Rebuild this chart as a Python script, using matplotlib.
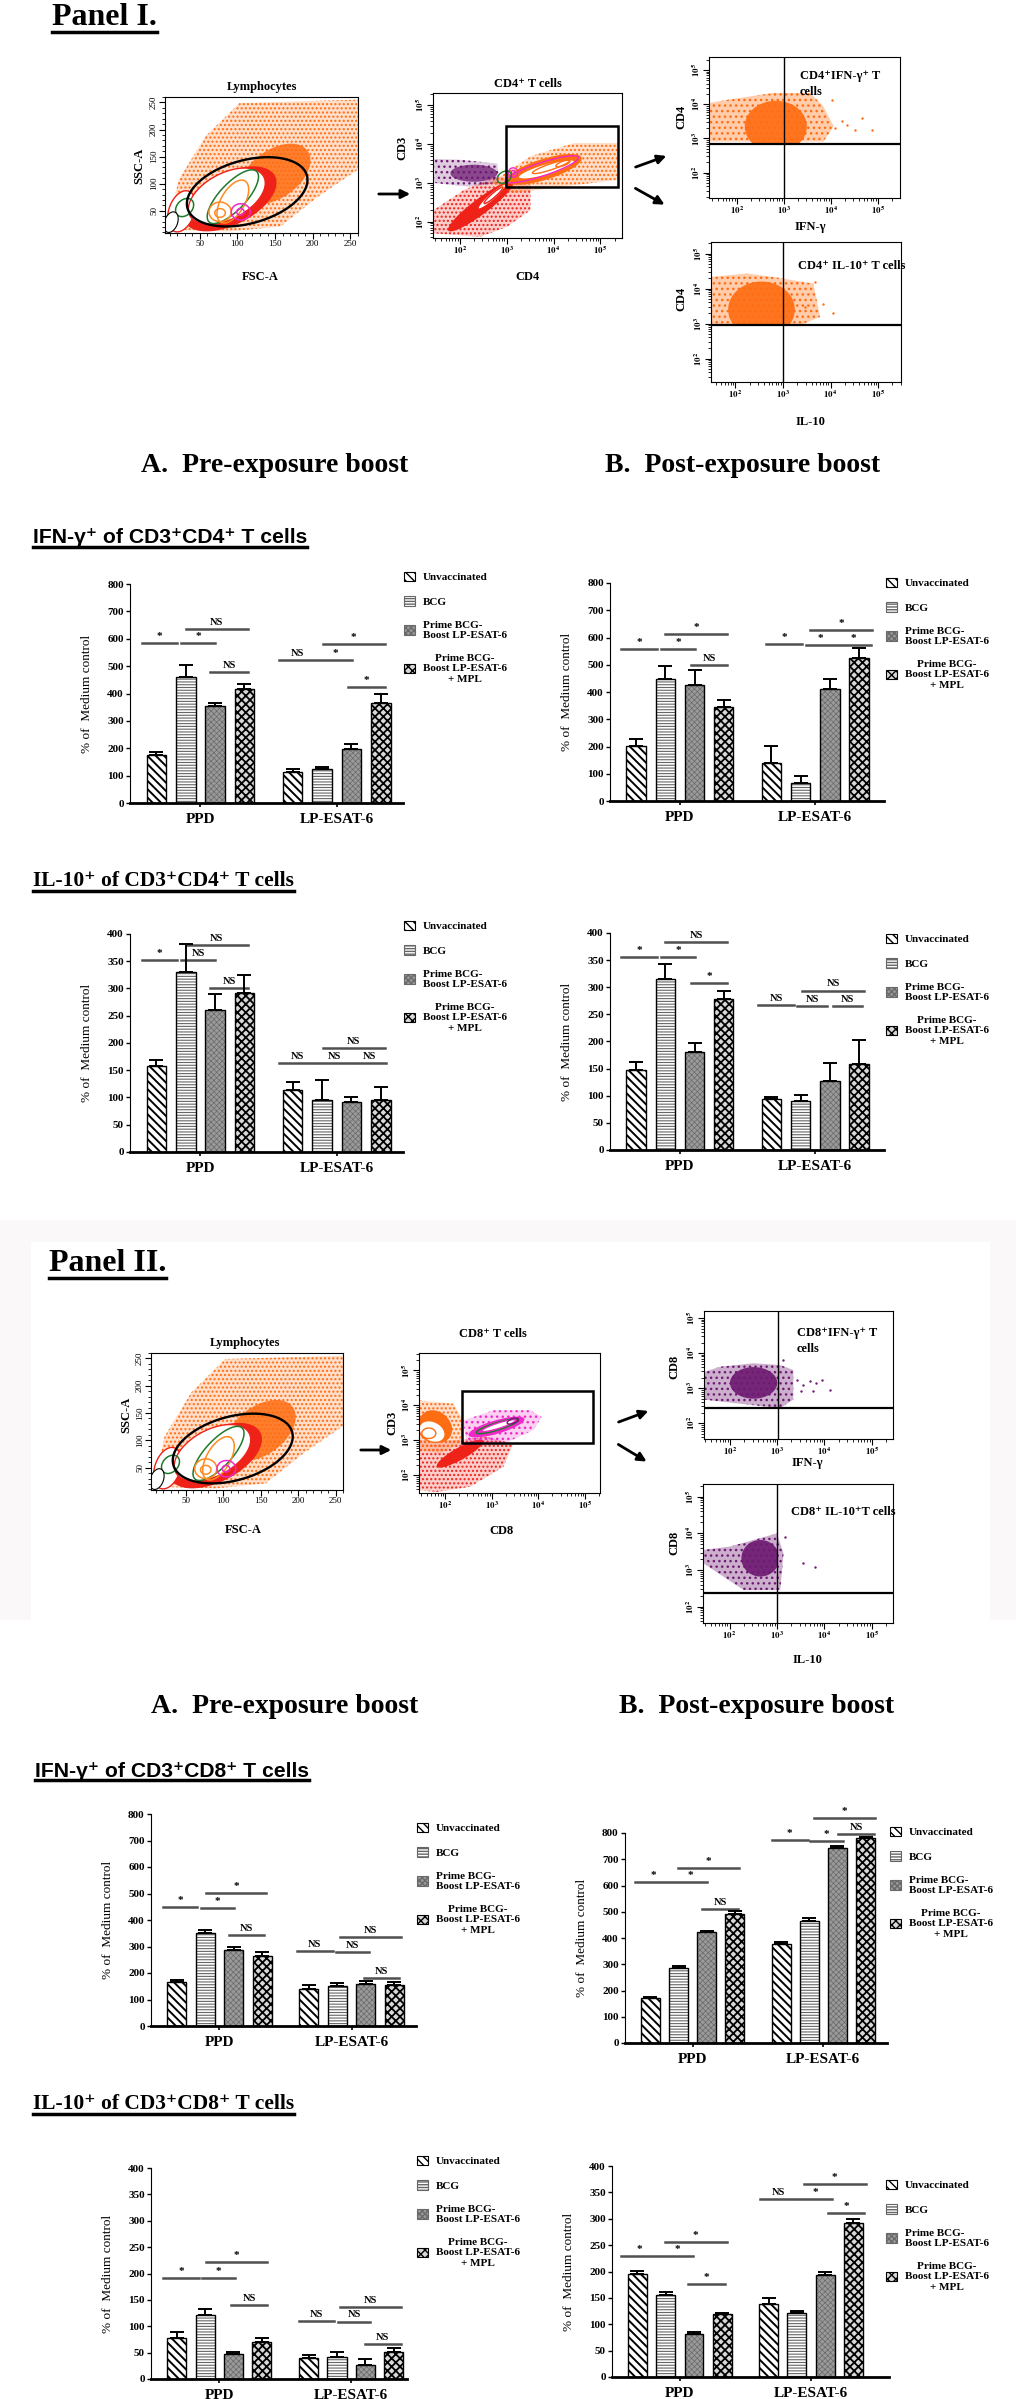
import numpy as np
import matplotlib
matplotlib.use('Agg')
import matplotlib.pyplot as plt
from matplotlib.patches import Patch, Rectangle, FancyArrowPatch
from matplotlib.lines import Line2D

plt.rcParams['font.family'] = ['Liberation Serif', 'DejaVu Serif']
plt.rcParams['font.weight'] = 'bold'
plt.rcParams['mathtext.fontset'] = 'stix'
plt.rcParams['hatch.linewidth'] = 1.0

W, H = 1016, 2399

# ---------------- bar chart data: PPD x4, then LP-ESAT-6 x4 ----------------
groups = ['PPD', 'LP-ESAT-6']
series = ['Unvaccinated', 'BCG', 'Prime BCG-\nBoost LP-ESAT-6', 'Prime BCG-\nBoost LP-ESAT-6\n+ MPL']

ifn_cd4_pre = [175, 460, 355, 418, 113, 123, 198, 364]
ifn_cd4_pre_err = [10, 43, 12, 17, 11, 8, 19, 36]
ifn_cd4_post = [203, 447, 425, 344, 138, 66, 410, 524]
ifn_cd4_post_err = [24, 47, 55, 26, 65, 26, 37, 38]
il10_cd4_pre = [158, 331, 261, 291, 114, 95, 92, 96]
il10_cd4_pre_err = [10, 50, 28, 33, 14, 38, 9, 24]
il10_cd4_post = [148, 315, 181, 279, 94, 90, 128, 159]
il10_cd4_post_err = [15, 27, 17, 15, 4, 11, 32, 44]
ifn_cd8_pre = [167, 352, 286, 266, 140, 151, 160, 156]
ifn_cd8_pre_err = [5, 10, 13, 15, 14, 12, 9, 11]
ifn_cd8_post = [173, 287, 422, 491, 376, 463, 743, 781]
ifn_cd8_post_err = [4, 5, 3, 10, 10, 12, 8, 5]
il10_cd8_pre = [77, 121, 47, 70, 39, 41, 27, 52]
il10_cd8_pre_err = [12, 11, 4, 8, 7, 10, 10, 7]
il10_cd8_post = [196, 155, 82, 120, 139, 121, 194, 292]
il10_cd8_post_err = [5, 6, 3, 2, 10, 5, 6, 8]

# significance bars: (from, to, level, label), x in bar units
sig_ifn_cd4_pre = [(-1.99, -0.79, 585, '*'), (-0.66, 0.5, 585, '*'), (-0.5, 1.61, 637, 'NS'), (0.34, 1.61, 480, 'NS'),
                   (2.68, 3.94, 523, 'NS'), (4.01, 5.16, 523, '*'), (4.16, 6.28, 579, '*'), (5.01, 6.28, 422, '*')]
sig_ifn_cd4_post = [(-2.01, -0.78, 559, '*'), (-0.65, 0.51, 557, '*'), (-0.51, 1.63, 614, '*'), (0.38, 1.63, 499, 'NS'),
                    (2.95, 4.18, 575, '*'), (4.32, 5.30, 572, '*'), (5.37, 6.55, 572, '*'), (4.47, 6.6, 627, '*')]
sig_il10_cd4_pre = [(-1.99, -0.79, 352, '*'), (-0.66, 0.5, 352, 'NS'), (-0.5, 1.61, 379, 'NS'), (0.34, 1.61, 300, 'NS'),
                    (2.68, 3.94, 164, 'NS'), (4.01, 5.12, 163, 'NS'), (5.21, 6.32, 163, 'NS'), (4.16, 6.28, 191, 'NS')]
sig_il10_cd4_post = [(-2.01, -0.78, 356, '*'), (-0.65, 0.51, 355, '*'), (-0.51, 1.63, 383, 'NS'), (0.38, 1.63, 307, '*'),
                     (2.68, 3.91, 267, 'NS'), (4.03, 5.03, 266, 'NS'), (5.26, 6.26, 266, 'NS'), (4.18, 6.33, 294, 'NS')]
sig_ifn_cd8_pre = [(-1.97, -0.78, 448, '*'), (-0.64, 0.5, 445, '*'), (-0.48, 1.65, 503, '*'), (0.32, 1.58, 343, 'NS'),
                   (2.72, 3.98, 284, 'NS'), (4.09, 5.24, 280, 'NS'), (4.25, 6.38, 337, 'NS'), (5.08, 6.31, 182, 'NS')]
sig_ifn_cd8_post = [(-2.03, -0.76, 613, '*'), (-0.69, 0.51, 612, '*'), (-0.53, 1.66, 667, '*'), (0.32, 1.62, 509, 'NS'),
                    (2.81, 4.08, 772, '*'), (4.15, 5.35, 771, '*'), (5.17, 6.44, 795, 'NS'), (4.31, 6.46, 858, '*')]
sig_il10_cd8_pre = [(-1.97, -0.71, 192, '*'), (-0.59, 0.55, 191, '*'), (-0.46, 1.69, 221, '*'), (0.43, 1.69, 141, 'NS'),
                    (2.79, 4.03, 110, 'NS'), (4.16, 5.31, 109, 'NS'), (4.25, 6.38, 137, 'NS'), (5.12, 6.38, 67, 'NS')]
sig_il10_cd8_post = [(-2.08, -0.76, 229, '*'), (-0.69, 0.48, 229, '*'), (-0.53, 1.66, 256, '*'), (0.3, 1.59, 177, '*'),
                     (2.84, 4.15, 338, 'NS'), (4.22, 5.38, 337, '*'), (4.38, 6.57, 365, '*'), (5.24, 6.53, 310, '*')]

# ---------------- flow cytometry shapes ----------------
# blobs: (x centre, y centre, x half-width, y half-height, tilt); log plots in decades
lymph_sparse = [(8, 15), (22, 107), (58, 188), (103, 249), (260, 255), (260, 126), (207, 76), (157, 21), (90, 12)]
lymph_orange_dense = (150, 118, 47, 50, 25)
lymph_red_dense = (90, 72, 62, 52, 30)
lymph_white = (86, 77, 51, 46, 24)
lymph_lobe_red = (26, 49, 18.5, 36, 12)
lymph_lobe_black = (12, 29, 9.5, 18, 6)
lymph_green = [(94, 76, 34, 33, 37), (30, 56, 12, 16, 5)]
lymph_orange = [(94, 67, 21, 33, 22), (77, 48, 14.7, 18, 0), (77, 46, 7, 8, 0)]
lymph_magenta = [(104.5, 48, 12.5, 15, 0), (104, 48, 5, 6, 0)]
lymph_gate = (113, 85, 80, 60, 22)

cd4_red_sparse = [(1.44, 1.70), (1.44, 2.30), (2.09, 2.82), (2.8, 3.17), (3.51, 3.08), (3.51, 2.3), (3.01, 1.87), (2.44, 1.61)]
cd4_red_dense = (2.45, 2.4, 0.7, 0.25, 0.6)
cd4_red_contours = [(2.69, 2.65, 0.3, 0.12, 0.3), (2.72, 2.68, 0.2, 0.07, 0.2)]
cd4_purple_sparse = [(1.46, 3.62), (2.0, 3.6), (2.8, 3.5), (2.85, 3.0), (2.2, 2.9), (1.46, 3.0)]
cd4_purple_dense = (2.3, 3.25, 0.5, 0.22, 0.0)
cd4_orange_sparse = [(2.66, 3.0), (3.51, 3.69), (4.44, 4.03), (5.37, 4.03), (5.37, 3.08), (4.23, 2.91), (3.16, 2.74)]
cd4_orange_dense = (3.8, 3.35, 0.8, 0.28, 0.28)
cd4_white = (3.85, 3.35, 0.6, 0.15, 0.2)
cd4_orange_contours = [(3.95, 3.42, 0.4, 0.08, 0.16), (4.2, 3.5, 0.15, 0.06, 0.06)]
cd4_magenta_contours = [(3.75, 3.35, 0.78, 0.18, 0.3), (3.14, 3.27, 0.1, 0.12, 0.0), (3.14, 3.27, 0.04, 0.05, 0.0)]
cd4_green_contours = [(2.95, 3.15, 0.15, 0.15, 0.05)]
cd4_gate = (2.98, 2.89, 5.37, 4.48)

ifn4_sparse = [(1.43, 2.91), (1.43, 4.04), (1.86, 4.14), (2.78, 4.33), (3.56, 4.33), (3.84, 3.94), (4.06, 3.35), (3.84, 2.91)]
ifn4_dense = (2.83, 3.35, 0.66, 0.75, 0.0)
ifn4_out_x = [4.23, 4.66, 4.87, 4.52, 4.09, 4.02, 4.35]
ifn4_out_y = [3.5, 3.6, 3.25, 3.25, 3.3, 4.12, 3.4]
ifn4_quad = (3.0, 2.85)

il4_sparse = [(1.49, 2.95), (1.49, 4.33), (2.24, 4.43), (2.8, 4.33), (3.64, 4.14), (3.78, 3.19), (3.36, 2.95)]
il4_dense = (2.55, 3.4, 0.7, 0.8, 0.0)
il4_out_x = [3.68, 3.85, 4.06, 3.47]
il4_out_y = [4.19, 3.57, 3.29, 3.48]
il4_quad = (3.0, 2.95)

cd8_orange_sparse = [(1.46, 4.14), (2.18, 4.05), (2.39, 3.57), (2.32, 2.9), (1.89, 2.62), (1.46, 2.71)]
cd8_orange_dense = (1.8, 3.4, 0.35, 0.45, -0.1)
cd8_orange_contours = [(1.72, 3.25, 0.28, 0.3, -0.08), (1.65, 3.2, 0.15, 0.15, 0.0)]
cd8_red_sparse = [(1.46, 3.0), (2.18, 3.0), (2.89, 3.1), (3.46, 2.9), (3.25, 2.24), (2.54, 1.67), (1.82, 1.52), (1.46, 1.57)]
cd8_red_dense = (2.32, 2.62, 0.5, 0.2, 0.35)
cd8_mag_sparse = [(2.39, 3.57), (3.04, 3.86), (3.82, 3.86), (4.07, 3.67), (3.89, 3.29), (3.25, 2.9), (2.46, 2.86)]
cd8_mag_dense = (3.1, 3.38, 0.6, 0.2, 0.22)
cd8_white = (3.15, 3.42, 0.36, 0.08, 0.15)
cd8_green = [(3.12, 3.4, 0.45, 0.11, 0.18)]
cd8_purple_in = [(3.45, 3.55, 0.12, 0.07, 0.05)]
cd8_gate = (2.36, 2.93, 5.18, 4.41)

ifn8_sparse = [(1.47, 3.47), (1.79, 3.61), (2.49, 3.71), (3.06, 3.66), (3.34, 3.52), (3.34, 2.67), (3.06, 2.43), (1.47, 2.67)]
ifn8_dense = (2.5, 3.15, 0.5, 0.45, 0.0)
ifn8_out_x = [3.41, 3.55, 3.69, 3.83, 3.94, 4.11, 3.51, 3.76, 3.13]
ifn8_out_y = [3.24, 3.09, 3.19, 3.14, 3.24, 2.95, 2.91, 2.91, 3.8]
ifn8_quad = (3.02, 2.42)

il8_sparse = [(1.45, 3.55), (2.01, 3.64), (2.51, 3.82), (3.0, 4.0), (3.14, 3.45), (3.07, 2.45), (2.3, 2.45), (1.45, 3.18)]
il8_dense = (2.65, 3.32, 0.4, 0.5, 0.0)
il8_out_x = [3.56, 3.81, 3.18]
il8_out_y = [3.18, 3.09, 3.91]
il8_quad = (3.0, 2.38)

ORANGE, RED, MAGENTA, GREEN, PURPLE = '#ff6d12', '#ee2219', '#f028c8', '#1f7a2c', '#6e1a72'

fig = plt.figure(figsize=(W / 100, H / 100), dpi=100)
headers = []


def px_axes(x0, y0, x1, y1):
    return fig.add_axes([x0 / W, 1 - y1 / H, (x1 - x0) / W, (y1 - y0) / H])


def ftext(x, y, s, **kw):
    return fig.text(x / W, 1 - y / H, s, **kw)


def arrow(x0, y0, x1, y1):
    fig.add_artist(FancyArrowPatch((x0 / W, 1 - y0 / H), (x1 / W, 1 - y1 / H), transform=fig.transFigure,
                                   arrowstyle='-|>', mutation_scale=13, lw=2, color='black'))


T = np.linspace(0, 2 * np.pi, 120)


def blob(ax, p, **kw):
    cx, cy, a, b, c = p
    return ax.fill(cx + a * np.cos(T), cy + b * np.sin(T) + c * np.cos(T), **kw)[0]


def dots(ax, pts, col, hatch='....', alpha=0.22):
    xs, ys = zip(*pts)
    ax.fill(xs, ys, fc=col, alpha=alpha, lw=0)
    return ax.fill(xs, ys, fc='none', ec=col, hatch=hatch, lw=0)[0]


def flow_ax(box, xlim, ylim, log=True):
    ax = px_axes(*box)
    ax.set_xlim(xlim)
    ax.set_ylim(ylim)
    if log:
        major = [2, 3, 4, 5]
        labels = ['$10^{%d}$' % n for n in major]
        minor = [n + np.log10(k) for n in range(1, 6) for k in range(2, 10)]
        ax.set_xticks(major, labels)
        ax.set_yticks(major, labels)
        ax.set_xticks([m for m in minor if xlim[0] < m < xlim[1]], minor=True)
        ax.set_yticks([m for m in minor if ylim[0] < m < ylim[1]], minor=True)
    else:
        ax.set_xticks(range(50, 251, 50))
        ax.set_yticks(range(50, 251, 50))
        ax.set_xticks(range(10, 261, 10), minor=True)
        ax.set_yticks(range(10, 261, 10), minor=True)
    ax.tick_params(labelsize=6.5, length=4, width=0.8, pad=1)
    ax.tick_params(which='minor', length=2.5, width=0.6)
    for t in ax.get_yticklabels():
        t.set_rotation(90)
        t.set_va('center')
    for t in ax.get_xticklabels() + ax.get_yticklabels():
        t.set_fontweight('normal')
    return ax


def lymph_plot(box):
    ax = flow_ax(box, (4, 260), (9, 258), log=False)
    dots(ax, lymph_sparse, ORANGE)
    blob(ax, lymph_orange_dense, fc=ORANGE, lw=0, alpha=0.85)
    blob(ax, lymph_red_dense, fc=RED, lw=0)
    blob(ax, lymph_lobe_red, fc='white', ec=RED, lw=1.0)
    blob(ax, lymph_white, fc='white', ec=RED, lw=1.0)
    for p in lymph_green:
        blob(ax, p, fc='none', ec=GREEN, lw=1.1)
    for p in lymph_orange:
        blob(ax, p, fc='none', ec='#ff8a20', lw=1.1)
    for p in lymph_magenta:
        blob(ax, p, fc='none', ec=MAGENTA, lw=1.1)
    blob(ax, lymph_lobe_black, fc='white', ec='black', lw=0.8)
    blob(ax, lymph_gate, fc='none', ec='black', lw=1.7)
    return ax


def quad_plot(box, xlim, ylim, sparse, dense, ox, oy, quad, col, clip_x=False):
    ax = flow_ax(box, xlim, ylim)
    qx, qy = quad
    dots(ax, sparse, col, hatch='...', alpha=0.35)
    d = blob(ax, dense, fc=col, lw=0, alpha=0.92)
    if clip_x:
        d.set_clip_path(Rectangle((xlim[0], qy), qx - xlim[0], 10, transform=ax.transData))
    else:
        d.set_clip_path(Rectangle((xlim[0], qy), 10, 10, transform=ax.transData))
    ax.scatter(ox, oy, s=3, color=col, lw=0)
    ax.axvline(qx, color='black', lw=1.0)
    ax.axhline(qy, color='black', lw=1.6)
    return ax


# ---------------- bar chart helper ----------------
bar_fill = ['white', 'white', '#9a9a9a', '#d8d8d8']
bar_hcol = ['black', '#666666', '#6a6a6a', 'black']
bar_hatch = ['\\\\\\\\', '------', 'xxxxxx', 'xxxx']
bar_hlw = [1.4, 0.8, 0.5, 1.3]
xpos = np.r_[np.arange(4) - 1.5, np.arange(4) - 1.5 + 4.64]


def bar_panel(box, vals, errs, ymax, step, xmax, sig, leg_x, leg_top):
    x0, y0, x1, y1 = box
    ax = px_axes(*box)
    for i in range(4):
        xs = xpos[[i, i + 4]]
        hs = [vals[i], vals[i + 4]]
        with plt.rc_context({'hatch.linewidth': bar_hlw[i]}):
            ax.bar(xs, hs, 0.67, color=bar_fill[i], edgecolor=bar_hcol[i], hatch=bar_hatch[i], lw=0)
        ax.bar(xs, hs, 0.67, fill=False, edgecolor='black', lw=1.0)
    ax.errorbar(xpos, vals, yerr=[np.zeros(8), errs], fmt='none', ecolor='black',
                elinewidth=1.4, capsize=5, capthick=1.4, zorder=3)
    for a, b, y, lab in sig:
        ax.plot([a, b], [y, y], color='#505050', lw=1.8, clip_on=False)
        ax.annotate(lab, ((a + b) / 2, y), xytext=(0, 1.5), textcoords='offset points', ha='center',
                    va='bottom', fontsize=7.5 if lab == 'NS' else 8, annotation_clip=False)
    ax.set_xlim(-2.4, xmax)
    ax.set_ylim(0, ymax)
    ax.set_yticks(np.arange(0, ymax + 1, step))
    ax.set_xticks([0, 4.64], groups)
    ax.spines['top'].set_visible(False)
    ax.spines['right'].set_visible(False)
    ax.spines['bottom'].set_linewidth(2)
    ax.tick_params(axis='y', labelsize=8, length=3, width=1, pad=1.5)
    ax.tick_params(axis='x', labelsize=11, length=3, width=1.2, pad=4)
    ax.set_ylabel('% of  Medium control', fontsize=9.5)
    ax.yaxis.set_label_coords(-37 / (x1 - x0), 0.5)
    handles = []
    for i in range(4):
        with plt.rc_context({'hatch.linewidth': bar_hlw[i]}):
            handles.append(Patch(facecolor=bar_fill[i], edgecolor=bar_hcol[i], hatch=bar_hatch[i], lw=0.8))
    leg = ax.legend(handles, series, loc='upper left', frameon=False,
                    bbox_to_anchor=((leg_x - x0) / (x1 - x0), (y1 - leg_top) / (y1 - y0)),
                    borderpad=0, borderaxespad=0, handlelength=1.0, handleheight=0.9,
                    handletextpad=0.7, labelspacing=1.25, prop={'size': 8, 'weight': 'bold'})
    leg.get_texts()[3].set_multialignment('center')
    return ax


def header(x, y, s, size, family):
    headers.append(ftext(x, y, s, fontsize=size, family=family, va='baseline', ha='left'))


SANS_N = ['Liberation Sans Narrow', 'Liberation Sans', 'DejaVu Sans']
SERIF = ['Liberation Serif', 'DejaVu Serif']

# ---------------- Panel II background ----------------
fig.add_artist(Rectangle((0, 1 - 1620 / H), 1, 400 / H, transform=fig.transFigure,
                         fc='#faf8f8', ec='none', zorder=-10))
fig.add_artist(Rectangle((31 / W, 1 - 1620 / H), 959 / W, 378 / H, transform=fig.transFigure,
                         fc='white', ec='none', zorder=-9))

# ================= Panel I =================
header(52, 25, 'Panel I.', 23, SERIF)

lymph_plot((165, 97, 358, 233))
ftext(262, 87, 'Lymphocytes', fontsize=9, ha='center', va='center')
ftext(139, 166, 'SSC-A', fontsize=9, ha='center', va='center', rotation=90)
ftext(260, 277, 'FSC-A', fontsize=9, ha='center', va='center')

ax = flow_ax((433, 93, 622, 238), (1.43, 5.46), (1.58, 5.32))
dots(ax, cd4_red_sparse, RED)
blob(ax, cd4_red_dense, fc=RED, lw=0)
for p in cd4_red_contours:
    blob(ax, p, fc='white', ec=RED, lw=1.0)
dots(ax, cd4_purple_sparse, PURPLE, hatch='...')
blob(ax, cd4_purple_dense, fc=PURPLE, lw=0, alpha=0.75)
dots(ax, cd4_orange_sparse, ORANGE)
blob(ax, cd4_orange_dense, fc=ORANGE, lw=0)
blob(ax, cd4_white, fc='white', ec=ORANGE, lw=1.0)
for p in cd4_orange_contours:
    blob(ax, p, fc='none', ec=ORANGE, lw=1.0)
for p in cd4_magenta_contours:
    blob(ax, p, fc='none', ec=MAGENTA, lw=1.0)
for p in cd4_green_contours:
    blob(ax, p, fc='none', ec=GREEN, lw=1.0)
gx0, gy0, gx1, gy1 = cd4_gate
ax.add_patch(Rectangle((gx0, gy0), gx1 - gx0, gy1 - gy0, fill=False, ec='black', lw=1.8))
ftext(528, 84, 'CD4⁺ T cells', fontsize=9, ha='center', va='center')
ftext(402, 148, 'CD3', fontsize=9, ha='center', va='center', rotation=90)
ftext(527, 277, 'CD4', fontsize=9, ha='center', va='center')

quad_plot((709, 57, 900, 198), (1.41, 5.47), (1.26, 5.38), ifn4_sparse, ifn4_dense,
          ifn4_out_x, ifn4_out_y, ifn4_quad, ORANGE)
ftext(800, 70, 'CD4⁺IFN-γ⁺ T\ncells', fontsize=9, ha='left', va='top', linespacing=1.4)
ftext(681, 117, 'CD4', fontsize=9, ha='center', va='center', rotation=90)
ftext(810, 227, 'IFN-γ', fontsize=9, ha='center', va='center')

quad_plot((711, 242, 901, 382), (1.49, 5.48), (1.33, 5.33), il4_sparse, il4_dense,
          il4_out_x, il4_out_y, il4_quad, ORANGE)
ftext(798, 266, 'CD4⁺ IL-10⁺ T cells', fontsize=9, ha='left', va='center')
ftext(681, 299, 'CD4', fontsize=9, ha='center', va='center', rotation=90)
ftext(810, 422, 'IL-10', fontsize=9, ha='center', va='center')

arrow(376, 194, 413, 194)
arrow(633, 168, 669, 155)
arrow(633, 187, 667, 206)

ftext(275, 472, 'A.  Pre-exposure boost', fontsize=20, ha='center', va='baseline')
ftext(743, 472, 'B.  Post-exposure boost', fontsize=20, ha='center', va='baseline')

header(33, 543, 'IFN-γ⁺ of CD3⁺CD4⁺ T cells', 15.2, SANS_N)
bar_panel((130, 584, 403, 803), ifn_cd4_pre, ifn_cd4_pre_err, 800, 100, 6.9, sig_ifn_cd4_pre, 404, 572)
bar_panel((610, 583, 884, 801), ifn_cd4_post, ifn_cd4_post_err, 800, 100, 7.0, sig_ifn_cd4_post, 886, 578)

header(33, 886, 'IL-10⁺ of CD3⁺CD4⁺ T cells', 15.5, SERIF)
bar_panel((130, 934, 403, 1152), il10_cd4_pre, il10_cd4_pre_err, 400, 50, 6.9, sig_il10_cd4_pre, 404, 921)
bar_panel((610, 933, 884, 1150), il10_cd4_post, il10_cd4_post_err, 400, 50, 7.0, sig_il10_cd4_post, 886, 934)

# ================= Panel II =================
header(49, 1271, 'Panel II.', 23, SERIF)

lymph_plot((151, 1353, 343, 1490))
ftext(245, 1343, 'Lymphocytes', fontsize=9, ha='center', va='center')
ftext(126, 1415, 'SSC-A', fontsize=9, ha='center', va='center', rotation=90)
ftext(243, 1530, 'FSC-A', fontsize=9, ha='center', va='center')

ax = flow_ax((419, 1353, 600, 1493), (1.44, 5.32), (1.49, 5.5))
dots(ax, cd8_red_sparse, RED)
blob(ax, cd8_red_dense, fc=RED, lw=0)
dots(ax, cd8_orange_sparse, ORANGE)
blob(ax, cd8_orange_dense, fc=ORANGE, lw=0)
for p in cd8_orange_contours:
    blob(ax, p, fc='white', ec=ORANGE, lw=1.0)
dots(ax, cd8_mag_sparse, MAGENTA, hatch='...')
blob(ax, cd8_mag_dense, fc=MAGENTA, lw=0)
for p in cd8_green:
    blob(ax, p, fc='none', ec=GREEN, lw=1.1)
blob(ax, cd8_white, fc='white', ec=MAGENTA, lw=1.0)
for p in cd8_purple_in:
    blob(ax, p, fc='none', ec=PURPLE, lw=1.0)
gx0, gy0, gx1, gy1 = cd8_gate
ax.add_patch(Rectangle((gx0, gy0), gx1 - gx0, gy1 - gy0, fill=False, ec='black', lw=1.8))
ftext(493, 1334, 'CD8⁺ T cells', fontsize=9, ha='center', va='center')
ftext(392, 1423, 'CD3', fontsize=9, ha='center', va='center', rotation=90)
ftext(502, 1531, 'CD8', fontsize=9, ha='center', va='center')

quad_plot((704, 1311, 893, 1439), (1.45, 5.45), (1.55, 5.2), ifn8_sparse, ifn8_dense,
          ifn8_out_x, ifn8_out_y, ifn8_quad, PURPLE)
ftext(797, 1327, 'CD8⁺IFN-γ⁺ T\ncells', fontsize=9, ha='left', va='top', linespacing=1.4)
ftext(674, 1367, 'CD8', fontsize=9, ha='center', va='center', rotation=90)
ftext(807, 1463, 'IFN-γ', fontsize=9, ha='center', va='center')

quad_plot((703, 1484, 893, 1623), (1.44, 5.45), (1.55, 5.35), il8_sparse, il8_dense,
          il8_out_x, il8_out_y, il8_quad, PURPLE, clip_x=True)
ftext(791, 1512, 'CD8⁺ IL-10⁺T cells', fontsize=9, ha='left', va='center')
ftext(674, 1543, 'CD8', fontsize=9, ha='center', va='center', rotation=90)
ftext(807, 1660, 'IL-10', fontsize=9, ha='center', va='center')

arrow(358, 1450, 394, 1450)
arrow(616, 1423, 651, 1410)
arrow(616, 1443, 649, 1463)

ftext(285, 1713, 'A.  Pre-exposure boost', fontsize=20, ha='center', va='baseline')
ftext(757, 1713, 'B.  Post-exposure boost', fontsize=20, ha='center', va='baseline')

header(35, 1777, 'IFN-γ⁺ of CD3⁺CD8⁺ T cells', 15.2, SANS_N)
bar_panel((151, 1814, 416, 2026), ifn_cd8_pre, ifn_cd8_pre_err, 800, 100, 6.9, sig_ifn_cd8_pre, 417, 1823)
bar_panel((625, 1833, 887, 2043), ifn_cd8_post, ifn_cd8_post_err, 800, 100, 6.9, sig_ifn_cd8_post, 890, 1827)

header(33, 2109, 'IL-10⁺ of CD3⁺CD8⁺ T cells', 15.5, SERIF)
bar_panel((151, 2168, 407, 2379), il10_cd8_pre, il10_cd8_pre_err, 400, 50, 6.6, sig_il10_cd8_pre, 417, 2156)
bar_panel((612, 2166, 889, 2377), il10_cd8_post, il10_cd8_post_err, 400, 50, 7.4, sig_il10_cd8_post, 886, 2180)

# underline the headings
fig.canvas.draw()
for t in headers:
    bb = t.get_window_extent()
    yb = bb.y0 + 0.5
    fig.add_artist(Line2D([bb.x0 / W, bb.x1 / W], [yb / H, yb / H], color='black', lw=2.5))

fig.savefig('out.png', dpi=100)
